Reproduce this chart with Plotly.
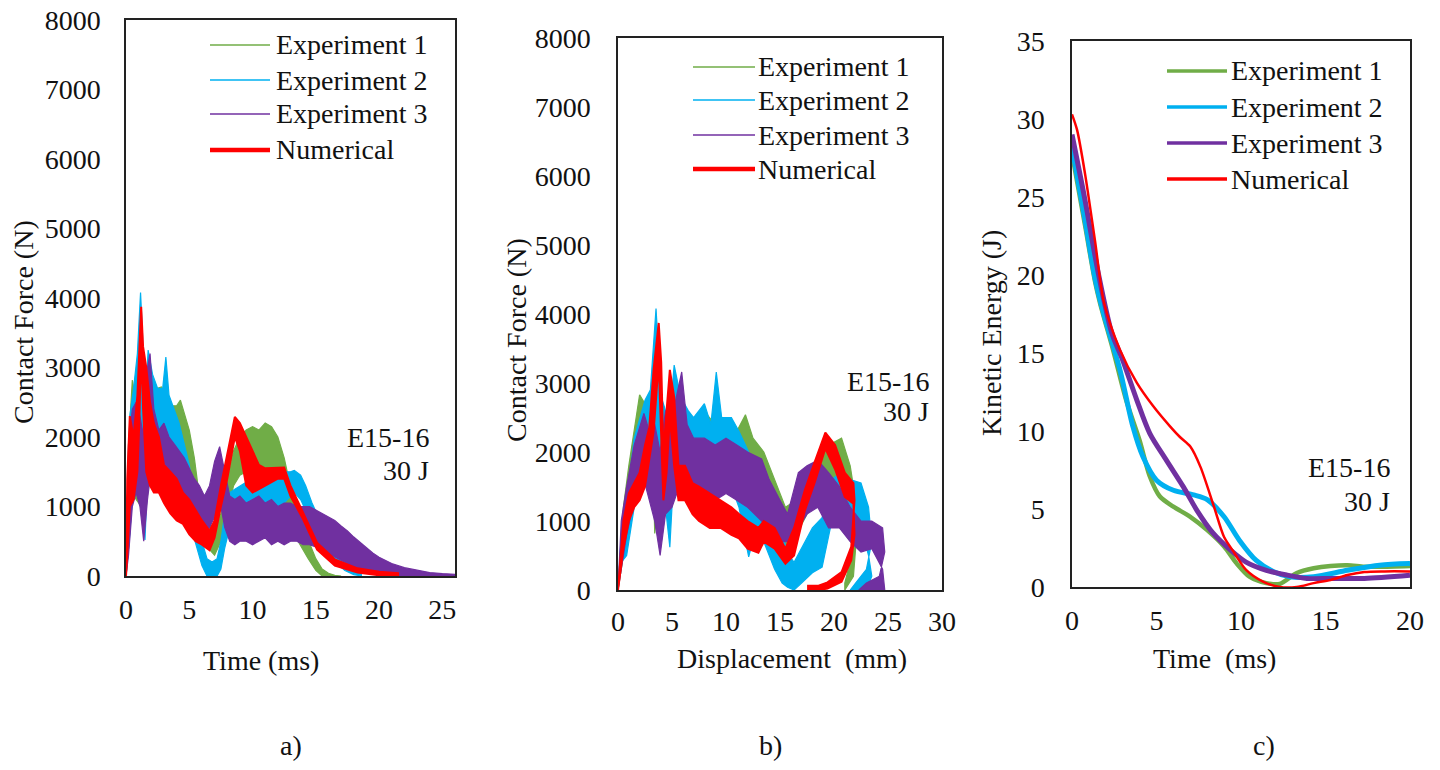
import plotly.graph_objects as go

# ---------------- colours / labels ----------------
SERIES = ["Experiment 1", "Experiment 2", "Experiment 3", "Numerical"]
COLORS = ["#70AD47", "#00B0F0", "#7030A0", "#FF0000"]

# ---------------- (a) contact force vs time : envelope of the noisy traces ----------------
A_T_EXP1 = [0, 0.2, 0.5, 0.8, 1.2, 1.6, 2.0, 2.5, 2.8, 3.2, 3.6, 4.0, 4.3, 4.7, 5.0, 5.4, 5.7, 6.0, 6.5, 7.0,
            7.5, 8.0, 8.5, 9.0, 9.5, 10.0, 10.5, 11.0, 11.5, 12.0, 12.5, 13.1, 13.6, 14.4, 15.0, 15.5, 16.0, 16.5, 17.0]
A_HI_EXP1 = [0, 1900, 2820, 2500, 2700, 2600, 2600, 2700, 2720, 2600, 2450, 2450, 2530, 2300, 2100, 1700, 1280, 1050, 800, 650,
             900, 1400, 1800, 2000, 2100, 2150, 2100, 2200, 2150, 2000, 1700, 1200, 900, 520, 250, 100, 40, 10, 0]
A_LO_EXP1 = [0, 400, 1200, 1100, 1000, 1300, 1600, 1800, 1900, 1850, 1750, 1700, 1650, 1500, 1300, 1050, 800, 600, 400, 300,
             500, 900, 1300, 1450, 1500, 1550, 1500, 1450, 1400, 1350, 1100, 800, 500, 250, 80, 0, 0, 0, 0]

A_T_EXP2 = [0, 0.3, 0.6, 0.9, 1.15, 1.3, 1.5, 1.75, 2.1, 2.5, 2.9, 3.15, 3.4, 3.8, 4.2, 4.6, 5.0, 5.3, 5.6, 6.0,
            6.4, 6.8, 7.2, 7.5, 7.8, 8.2, 8.6, 9.0, 9.5, 10.0, 10.5, 11.0, 11.5, 12.0, 12.5, 13.0, 13.3, 13.8, 14.2, 14.7,
            15.2, 15.9, 16.5, 17.3, 18.0, 18.6]
A_HI_EXP2 = [0, 2300, 2700, 3200, 4080, 3500, 2400, 3250, 2900, 2700, 2700, 3150, 2600, 2400, 2200, 1900, 1600, 1200, 900, 500,
             250, 200, 250, 500, 900, 1200, 1250, 1300, 1350, 1300, 1350, 1350, 1400, 1450, 1500, 1500, 1520, 1450, 1300, 1050,
             850, 600, 450, 300, 170, 60]
A_LO_EXP2 = [0, 600, 1400, 1800, 2200, 1500, 520, 1600, 1800, 1900, 2000, 2000, 1900, 1700, 1500, 1200, 900, 600, 400, 150,
             0, 0, 0, 100, 400, 700, 750, 800, 850, 850, 900, 900, 950, 1000, 1050, 1150, 1200, 1100, 950, 750,
             550, 350, 200, 80, 20, 0]

A_T_EXP3 = [0, 0.2, 0.5, 0.8, 1.1, 1.4, 1.7, 1.9, 2.2, 2.6, 3.0, 3.4, 3.8, 4.2, 4.6, 5.0, 5.4, 5.8, 6.2, 6.6,
            7.0, 7.4, 7.8, 8.2, 8.6, 9.0, 9.5, 10.0, 10.5, 11.0, 11.5, 12.0, 12.5, 13.0, 13.5, 14.0, 14.5, 15.0, 15.5, 16.0,
            16.5, 17.0, 17.5, 18.0, 18.5, 19.0, 19.5, 20.0, 21.0, 22.0, 23.0, 24.0, 25.0, 26.0]
A_HI_EXP3 = [0, 1900, 2400, 2500, 2300, 2000, 3000, 3200, 2400, 2100, 2200, 2000, 1900, 1800, 1700, 1550, 1400, 1300, 1150, 1300,
             1650, 1860, 1500, 1150, 1100, 1150, 1050, 1100, 1150, 1050, 1100, 1000, 1050, 1050, 1000, 1000, 1000, 950, 900, 850,
             800, 720, 650, 560, 480, 400, 330, 270, 180, 120, 80, 50, 35, 25]
A_LO_EXP3 = [0, 300, 1000, 1200, 1000, 500, 1100, 1400, 1300, 1200, 1250, 1100, 1050, 1000, 900, 850, 750, 650, 600, 700,
             850, 1100, 700, 500, 450, 500, 500, 450, 500, 550, 450, 500, 450, 500, 500, 450, 450, 420, 380, 330,
             280, 230, 180, 130, 100, 70, 40, 20, 0, 0, 0, 0, 0, 0]

A_T_NUM = [0, 0.1, 0.3, 0.6, 0.9, 1.05, 1.2, 1.35, 1.6, 1.9, 2.2, 2.6, 3.0, 3.5, 4.0, 4.5, 5.0, 5.5, 6.0, 6.6,
           7.0, 7.5, 8.0, 8.6, 9.0, 9.5, 10.0, 10.5, 11.0, 11.5, 12.0, 12.5, 13.0, 13.9, 15.1, 16.5, 18.3, 20.0, 21.5]
A_HI_NUM = [0, 1400, 2300, 2000, 2600, 3200, 3875, 3300, 3000, 2500, 2200, 2000, 1600, 1500, 1400, 1200, 1100, 950, 800, 650,
            800, 1300, 1750, 2290, 2200, 2000, 1800, 1600, 1550, 1550, 1550, 1560, 1300, 950, 480, 240, 110, 60, 40]
A_LO_NUM = [0, 300, 1000, 1100, 1500, 2200, 3300, 2400, 1500, 1300, 1200, 1200, 1050, 900, 800, 750, 600, 500, 450, 370,
            550, 1000, 1400, 2000, 1800, 1300, 1200, 1250, 1300, 1350, 1400, 1400, 1150, 850, 380, 150, 50, 10, 0]

# ---------------- (b) contact force vs displacement (path order, loops back on rebound) ----------------
B_D_EXP1 = [0, 0.5, 1, 1.5, 2, 2.5, 3, 3.3, 3.4, 3.8, 4.2, 5, 5.5, 6, 7, 8, 8.2, 9, 10, 11,
            11.8, 12.5, 13.5, 14.5, 15.5, 16.5, 17.5, 18.5, 19.5, 20.7, 21.5, 22, 21.8, 21.0]
B_HI_EXP1 = [0, 1200, 1800, 2300, 2830, 2700, 2600, 3300, 2600, 2700, 2600, 2600, 2500, 2400, 2500, 2450, 2550, 2400, 2300, 2300,
             2540, 2200, 2000, 1600, 1200, 1300, 1700, 1900, 2100, 2200, 1800, 1300, 600, 100]
B_LO_EXP1 = [0, 500, 1000, 1300, 1500, 1600, 1500, 1500, 820, 1400, 1300, 1400, 1500, 1500, 1600, 1700, 1700, 1700, 1700, 1600,
             1500, 1500, 1300, 900, 600, 800, 1100, 1400, 1500, 1600, 1200, 600, 200, 0]

B_D_EXP2 = [0, 0.3, 0.8, 1.5, 2.5, 3, 3.52, 4, 4.4, 4.8, 5.2, 5.8, 6.5, 7, 8, 8.6, 9.1, 9.6, 10.5, 11.2,
            12.1, 12.8, 13.5, 14.5, 15.2, 15.7, 16.3, 17, 18, 18.9, 19.8, 20.6, 21.5, 22.5, 23.2, 23.5, 23, 22, 21.5]
B_HI_EXP2 = [0, 800, 1300, 2200, 2750, 2900, 4080, 2800, 2600, 2500, 3260, 2800, 2600, 2500, 2700, 2400, 3160, 2500, 2500, 2300,
             2000, 1800, 1500, 1200, 800, 540, 400, 600, 900, 1050, 1600, 1700, 1600, 1550, 1200, 700, 300, 100, 0]
B_LO_EXP2 = [0, 400, 500, 1200, 1700, 2000, 2200, 1500, 1200, 620, 1800, 1600, 1400, 1700, 1600, 1700, 1800, 1600, 1500, 1200,
             480, 900, 700, 300, 100, 40, 0, 100, 250, 330, 1000, 900, 1000, 900, 500, 200, 0, 0, 0]

B_D_EXP3 = [0, 0.3, 0.8, 1.5, 2.4, 2.9, 3.4, 3.9, 4.4, 5, 5.9, 6.4, 7, 8, 9, 10, 11, 12, 13.3, 14,
            15, 15.7, 16.7, 17.5, 18.5, 19.5, 20.5, 21.5, 22.5, 23.5, 24.5, 24.7, 24.2, 23, 22.3]
B_HI_EXP3 = [0, 1000, 1500, 2100, 2560, 2300, 2400, 2000, 2600, 2500, 3160, 2400, 2200, 2200, 2100, 2200, 2100, 2000, 1900, 1600,
             1300, 1100, 1700, 1800, 1880, 1700, 1500, 1200, 1000, 1000, 900, 550, 200, 100, 0]
B_LO_EXP3 = [0, 300, 800, 1300, 1600, 1300, 1000, 500, 1100, 1200, 1600, 1300, 1300, 1400, 1300, 1400, 1300, 1200, 1000, 900,
             700, 700, 900, 1100, 1200, 900, 900, 700, 550, 600, 300, 0, 0, 0, 0]

B_D_NUM = [0, 0.5, 1, 1.5, 2, 2.5, 2.9, 3.3, 3.77, 4.0, 4.2, 4.5, 4.8, 5.2, 5.6, 6.2, 6.9, 7.5, 8.5, 9.5,
           10.5, 11.2, 12, 13, 13.5, 14.5, 15.5, 16.3, 17.3, 18.2, 19.2, 20.1, 21, 21.8, 21.9, 21.6, 20.7, 19.4, 18.5, 17.6]
B_HI_NUM = [0, 1000, 1400, 1550, 1700, 2100, 2360, 3200, 3870, 3300, 2000, 2600, 3190, 2800, 1800, 1800, 1550, 1500, 1400, 1300,
            1200, 1100, 1000, 900, 1000, 900, 600, 900, 1450, 1850, 2280, 2100, 1700, 1550, 1300, 630, 260, 110, 60, 60]
B_LO_NUM = [0, 600, 1000, 1200, 1300, 1500, 1900, 2300, 3300, 2300, 1300, 1700, 2500, 1800, 1300, 1300, 1100, 1000, 900, 900,
            800, 750, 600, 540, 700, 600, 380, 500, 1150, 1550, 2050, 1750, 1350, 1250, 800, 430, 120, 20, 0, 0]

# ---------------- (c) kinetic energy vs time ----------------
C_T_EXP1 = [0, 0.77, 1.36, 1.66, 2.43, 3.2, 4.0, 4.6, 5.2, 6.0, 7.0, 8.0, 9.0, 9.75, 10.5, 11.5, 12.3, 13.3, 14.3, 15.3,
            16.3, 17.3, 18.2, 20]
C_E_EXP1 = [27.8, 23.2, 19.6, 18.2, 15.2, 12.0, 9.4, 7.1, 5.8, 5.15, 4.5, 3.65, 2.6, 1.5, 0.66, 0.25, 0.2, 0.9, 1.2, 1.35,
            1.4, 1.3, 1.3, 1.35]

C_T_EXP2 = [0, 0.77, 1.36, 1.85, 2.84, 3.6, 4.2, 5.0, 6.0, 7.2, 8.0, 9.0, 9.9, 10.9, 11.9, 12.9, 14.3, 16.3, 18.2, 20]
C_E_EXP2 = [28.2, 23.5, 19.8, 17.6, 13.9, 10.3, 8.35, 6.85, 6.2, 5.9, 5.6, 4.5, 3.0, 1.7, 1.0, 0.66, 0.66, 1.07, 1.4, 1.5]

C_T_EXP3 = [0, 0.77, 1.56, 2.35, 3.0, 3.83, 4.6, 5.6, 6.6, 7.4, 8.35, 9.35, 10.3, 11.5, 12.7, 13.9, 15.3, 17.3, 20]
C_E_EXP3 = [29.0, 24.8, 20.1, 16.3, 14.55, 12.0, 9.85, 8.1, 6.4, 4.9, 3.45, 2.4, 1.6, 1.07, 0.77, 0.55, 0.55, 0.55, 0.75]

C_T_NUM = [0, 0.3, 0.77, 1.36, 1.9, 2.84, 3.83, 4.8, 5.8, 6.4, 7.0, 7.6, 8.4, 9.0, 9.6, 10.3, 11.3, 12.3, 13.3, 14.3,
           15.3, 16.3, 17.3, 18.5, 20]
C_E_NUM = [30.3, 29.3, 26.5, 22.2, 18.2, 15.2, 13.1, 11.6, 10.3, 9.6, 9.0, 7.7, 5.15, 3.2, 2.2, 1.1, 0.35, 0.0, 0.0, 0.25,
           0.45, 0.77, 0.96, 1.0, 1.0]

CASE_LINES = ["E15-16", "30 J"]
PANEL_TAGS = ["a)", "b)", "c)"]

FONT = "Liberation Serif"
W, H = 1440, 770


def px(x):
    return x / W


def py(y):
    return 1 - y / H


fig = go.Figure()


def add_band(xs, lo, hi, color, xa, ya, edge=1.2):
    fig.add_trace(go.Scatter(
        x=list(xs) + list(xs)[::-1], y=list(hi) + list(lo)[::-1],
        mode="lines", fill="toself", fillcolor=color,
        line=dict(color=color, width=edge),
        xaxis=xa, yaxis=ya, showlegend=False, hoverinfo="skip"))


# panel a
a_sets = [(A_T_EXP1, A_LO_EXP1, A_HI_EXP1), (A_T_EXP2, A_LO_EXP2, A_HI_EXP2),
          (A_T_EXP3, A_LO_EXP3, A_HI_EXP3), (A_T_NUM, A_LO_NUM, A_HI_NUM)]
for (t, lo, hi), c in zip(a_sets, COLORS):
    add_band(t, lo, hi, c, "x", "y", 2 if c == COLORS[3] else 1.2)

# panel b
b_sets = [(B_D_EXP1, B_LO_EXP1, B_HI_EXP1), (B_D_EXP2, B_LO_EXP2, B_HI_EXP2),
          (B_D_EXP3, B_LO_EXP3, B_HI_EXP3), (B_D_NUM, B_LO_NUM, B_HI_NUM)]
for (d, lo, hi), c in zip(b_sets, COLORS):
    add_band(d, lo, hi, c, "x2", "y2", 2 if c == COLORS[3] else 1.2)

# panel c
c_sets = [(C_T_EXP1, C_E_EXP1, 4.5), (C_T_EXP2, C_E_EXP2, 5), (C_T_EXP3, C_E_EXP3, 5), (C_T_NUM, C_E_NUM, 2.5)]
for (t, e, w), c in zip(c_sets, COLORS):
    fig.add_trace(go.Scatter(x=t, y=e, mode="lines", line=dict(color=c, width=w, shape="spline", smoothing=0.8),
                             xaxis="x3", yaxis="y3", showlegend=False, hoverinfo="skip"))

# ---------------- axes ----------------
tickfont = dict(family=FONT, size=28, color="#111")
common = dict(showline=True, linecolor="#222", linewidth=1.5, mirror=True, showgrid=False,
              zeroline=False, ticks="", tickfont=tickfont, fixedrange=True, automargin=False)

boxes = {
    "a": (126, 455, 20, 576),
    "b": (618, 942, 38, 590),
    "c": (1072, 1410, 41, 587),
}


def dom(b):
    l, r, t, btm = b
    return [px(l), px(r)], [py(btm), py(t)]


xa, ya = dom(boxes["a"])
xb, yb = dom(boxes["b"])
xc, yc = dom(boxes["c"])

fig.update_layout(
    width=W, height=H, margin=dict(l=0, r=0, t=0, b=0, autoexpand=False),
    paper_bgcolor="white", plot_bgcolor="white", showlegend=False,
    xaxis=dict(domain=xa, range=[0, 26], tickvals=[0, 5, 10, 15, 20, 25], anchor="y", ticklabelstandoff=8, **common),
    yaxis=dict(domain=ya, range=[0, 8000], dtick=1000, anchor="x", ticklabelstandoff=18, **common),
    xaxis2=dict(domain=xb, range=[0, 30], dtick=5, anchor="y2", ticklabelstandoff=6, **common),
    yaxis2=dict(domain=yb, range=[0, 8000], dtick=1000, anchor="x2", ticklabelstandoff=20, **common),
    xaxis3=dict(domain=xc, range=[0, 20], dtick=5, anchor="y3", ticklabelstandoff=8, **common),
    yaxis3=dict(domain=yc, range=[0, 35], dtick=5, anchor="x3", ticklabelstandoff=20, **common),
)

txt = dict(family=FONT, size=28, color="#111")
ann = []
shapes = []

# axis titles
for (x, y, s, ang) in [(261, 660, "Time (ms)", 0), (23, 322, "Contact Force (N)", -90),
                       (792, 658, "Displacement  (mm)", 0), (517, 340, "Contact Force (N)", -90),
                       (1214, 658, "Time  (ms)", 0), (991, 333, "Kinetic Energy (J)", -90)]:
    ann.append(dict(x=px(x), y=py(y), xref="paper", yref="paper", text=s, showarrow=False,
                    textangle=ang, font=txt, xanchor="center", yanchor="middle"))

# case labels
for (xr, y1, y2) in [(428, 437, 470), (928, 381, 411), (1389, 467, 501)]:
    ann.append(dict(x=px(xr), y=py(y1), xref="paper", yref="paper", text=CASE_LINES[0], showarrow=False,
                    font=txt, xanchor="right", yanchor="middle", xshift=3))
    ann.append(dict(x=px(xr), y=py(y2), xref="paper", yref="paper", text=CASE_LINES[1], showarrow=False,
                    font=txt, xanchor="right", yanchor="middle", xshift=3))

# panel tags
for (x, s) in zip([291, 770, 1264], PANEL_TAGS):
    ann.append(dict(x=px(x), y=py(745), xref="paper", yref="paper", text=s, showarrow=False,
                    font=txt, xanchor="center", yanchor="middle"))

# legends
legends = [
    (210, 270, 277, [45, 80, 114, 150], [1.5, 1.5, 1.5, 4.5]),
    (693, 755, 759, [67, 100, 135, 169], [1.5, 1.5, 1.5, 4.5]),
    (1167, 1227, 1232, [71, 107, 143, 179], [3.5, 3.5, 3.5, 3.5]),
]
for (x0, x1, xt, ys, ws) in legends:
    for name, c, y, w in zip(SERIES, COLORS, ys, ws):
        shapes.append(dict(type="line", xref="paper", yref="paper", x0=px(x0), x1=px(x1), y0=py(y), y1=py(y),
                           line=dict(color=c, width=w)))
        ann.append(dict(x=px(xt), y=py(y), xref="paper", yref="paper", text=name, showarrow=False,
                        font=txt, xanchor="left", yanchor="middle", xshift=-3))

fig.update_layout(annotations=ann, shapes=shapes)
fig.write_html("out.html")
